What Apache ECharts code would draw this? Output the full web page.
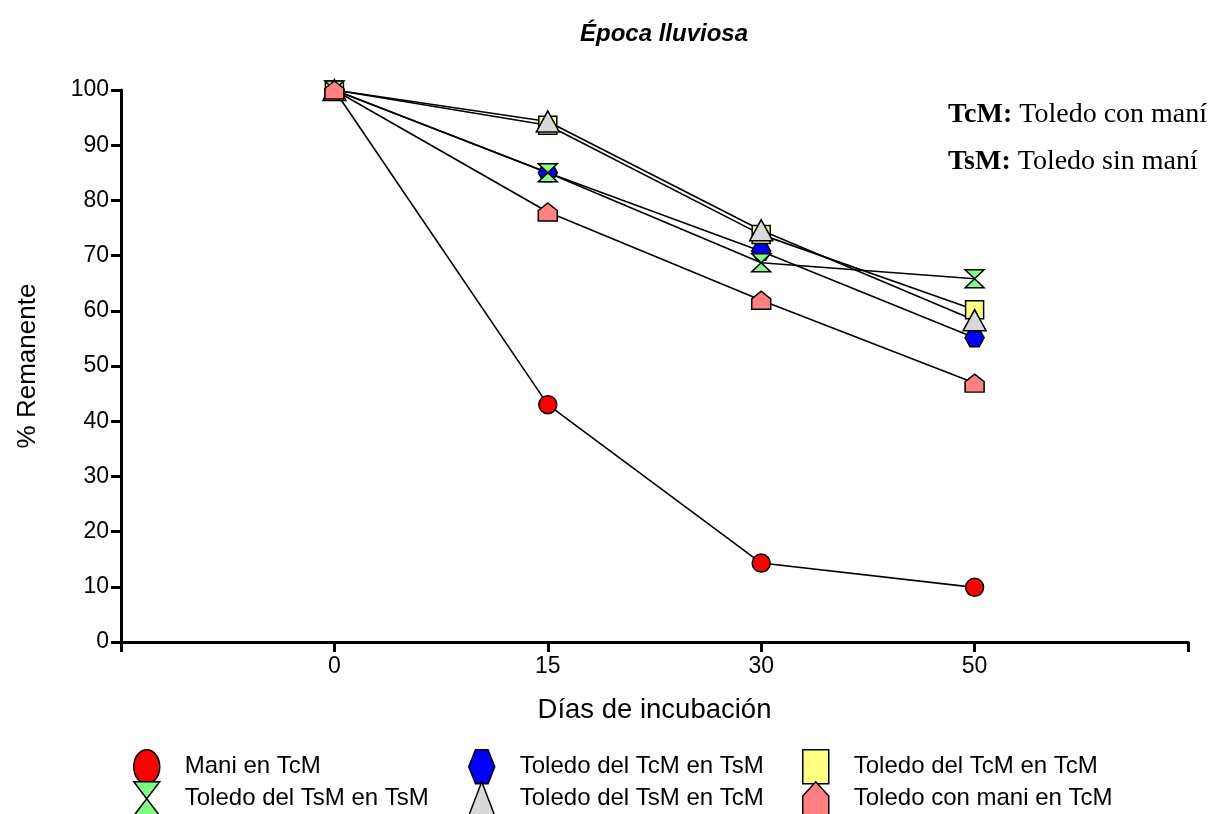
<!DOCTYPE html>
<html><head><meta charset="utf-8">
<script src="https://cdn.jsdelivr.net/npm/echarts@6/dist/echarts.min.js"></script>
<style>html,body{margin:0;padding:0;background:#fff}#c{width:1211px;height:814px}</style>
</head><body><div id="c"></div>
<script>
var categories = ['0', '15', '30', '50'];
var yTicks = [0, 10, 20, 30, 40, 50, 60, 70, 80, 90, 100];
var maniTcM = [100, 43, 14.3, 9.9];
var toledoTcMenTsM = [100, 85, 70.8, 55.1];
var toledoTcMenTcM = [100, 93.6, 73.8, 60.2];
var toledoTsMenTsM = [100, 85, 68.7, 65.8];
var toledoTsMenTcM = [100, 94.3, 74.6, 58.3];
var toledoConMani = [100, 77.9, 61.9, 46.9];
var seriesNames = ['Mani en TcM', 'Toledo del TcM en TsM', 'Toledo del TcM en TcM', 'Toledo del TsM en TsM', 'Toledo del TsM en TcM', 'Toledo con mani en TcM'];

var SYM = {
  ellipse: 'path://M5,0 A5,5 0 1,1 5,10 A5,5 0 1,1 5,0 Z',
  hex: 'path://M2.6,0 L7.4,0 L10,5 L7.4,10 L2.6,10 L0,5 Z',
  square: 'path://M0,0 L10,0 L10,10 L0,10 Z',
  hour: 'path://M0,0 L10,0 L5,5 L10,10 L0,10 L5,5 Z',
  tri: 'path://M5,0 L10,10 L0,10 Z',
  house: 'path://M5,0 L10,4.2 L10,10 L0,10 L0,4.2 Z'
};
var styles = [
  {sym: SYM.ellipse, color: '#ff0000', size: [18, 18]},
  {sym: SYM.hex, color: '#0000ff', size: [19, 18]},
  {sym: SYM.square, color: '#ffff80', size: [18, 18]},
  {sym: SYM.hour, color: '#80ff80', size: [19, 18]},
  {sym: SYM.tri, color: '#d9d9d9', size: [23, 21]},
  {sym: SYM.house, color: '#ff8080', size: [19, 18]}
];
var dataSets = [maniTcM, toledoTcMenTsM, toledoTcMenTcM, toledoTsMenTsM, toledoTsMenTcM, toledoConMani];

var series = dataSets.map(function (d, i) {
  return {
    name: seriesNames[i], type: 'line',
    data: d.map(function (v, j) { return [j + 1, v]; }),
    symbol: styles[i].sym, symbolSize: styles[i].size, symbolKeepAspect: false,
    lineStyle: {color: '#000', width: 1.6},
    itemStyle: {color: styles[i].color, borderColor: '#000', borderWidth: 1.5},
    emphasis: {disabled: true}, animation: false
  };
});

var legendPos = [[133, 749], [468, 749], [802, 749], [133, 781], [468, 781], [802, 781]];
var legendOrder = [0, 1, 2, 3, 4, 5];
var legends = legendOrder.map(function (i, k) {
  return {
    left: legendPos[k][0], top: legendPos[k][1], itemWidth: 26, itemHeight: 34, itemGap: 0, padding: 0,
    textStyle: {fontFamily: 'Liberation Sans', fontSize: 24, color: '#000', padding: [0, 0, 0, 20]},
    data: [{name: seriesNames[i], icon: styles[i].sym, symbolKeepAspect: false,
      itemStyle: {color: styles[i].color, borderColor: '#000', borderWidth: 1.5}}]
  };
});

var chart = echarts.init(document.getElementById('c'));
chart.setOption({
  animation: false,
  title: {text: 'Época lluviosa', left: 659, top: 17, textAlign: 'center',
    textStyle: {fontFamily: 'Liberation Sans', fontSize: 24, fontWeight: 'bold', fontStyle: 'italic', color: '#000'}},
  grid: {left: 121, right: 23, top: 90, bottom: 172},
  xAxis: {
    type: 'value', min: 0, max: 5, interval: 1,
    name: 'Días de incubación', nameLocation: 'middle', nameGap: 54,
    nameTextStyle: {fontFamily: 'Liberation Sans', fontSize: 27.5, color: '#000'},
    axisLine: {lineStyle: {color: '#000', width: 3}},
    axisTick: {show: true, length: 10, lineStyle: {color: '#000', width: 3}},
    axisLabel: {fontFamily: 'Liberation Sans', fontSize: 23, color: '#000', margin: 13,
      formatter: function (v) { return categories[v - 1] || ''; }},
    splitLine: {show: false}
  },
  yAxis: {
    type: 'value', min: 0, max: 100, interval: 10,
    name: '% Remanente', nameLocation: 'middle', nameGap: 80,
    nameTextStyle: {fontFamily: 'Liberation Sans', fontSize: 26, color: '#000'},
    axisLine: {show: true, lineStyle: {color: '#000', width: 3}},
    axisTick: {show: true, length: 10, lineStyle: {color: '#000', width: 3}},
    axisLabel: {fontFamily: 'Liberation Sans', fontSize: 23, color: '#000', margin: 12,
      formatter: function (v) { return yTicks.indexOf(v) >= 0 ? String(v) : ''; }},
    splitLine: {show: false}
  },
  legend: legends,
  graphic: [
    {type: 'text', left: 948, top: 101, style: {text: '{b|TcM:} Toledo con maní', rich: {b: {fontWeight: 'bold', fontFamily: 'Liberation Serif', fontSize: 28}}, fontFamily: 'Liberation Serif', fontSize: 28, fill: '#000'}},
    {type: 'text', left: 948, top: 148, style: {text: '{b|TsM:} Toledo sin maní', rich: {b: {fontWeight: 'bold', fontFamily: 'Liberation Serif', fontSize: 28}}, fontFamily: 'Liberation Serif', fontSize: 28, fill: '#000'}}
  ],
  series: series
});
</script></body></html>
